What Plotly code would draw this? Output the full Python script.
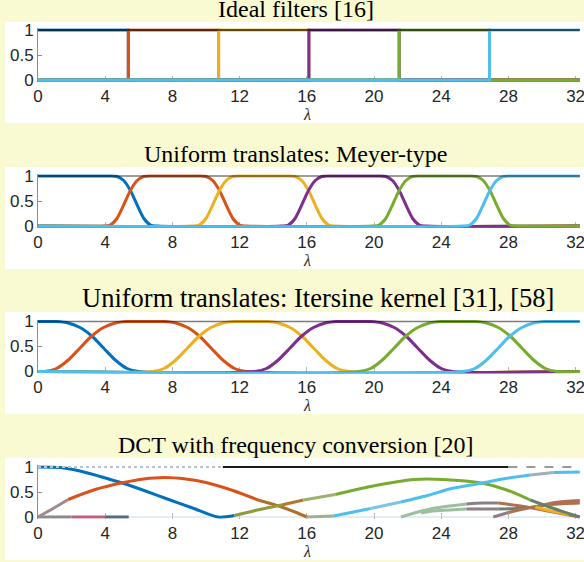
import plotly.graph_objects as go

FIG_W, FIG_H = 584, 562
PAPER_BG = "#FAFAD2"

# ---------------- data ----------------
LAMBDA_MAX = 32.25
X_TICKS = [0, 4, 8, 12, 16, 20, 24, 28, 32]
Y_TICKS = [0, 0.5, 1]
Y_TICKTEXT = ["0", "0.5", "1"]
TITLES = [
    "Ideal filters [16]",
    "Uniform translates: Meyer-type",
    "Uniform translates: Itersine kernel [31], [58]",
    "DCT with frequency conversion [20]",
]
FILTER_COLORS = ["#0072BD", "#D95319", "#EDB120", "#7E2F8E", "#77AC30", "#4DBEEE"]

# Panel 1: ideal band edges
IDEAL_EDGES = [0, 5.375, 10.75, 16.125, 21.5, 26.875, 32.25]

# Panel 2: Meyer-type transitions (crossing points and ramp profile)
MEYER_CENTERS = [5.5, 10.8, 16.1, 21.5, 26.9]
MEYER_OFFSETS = [-1.6, -1.2, -0.8, -0.4, 0.0, 0.4, 0.8, 1.2, 1.6]
MEYER_RISE = [0.0, 0.02, 0.15, 0.42, 0.71, 0.91, 0.99, 1.0, 1.0]

# Panel 3: Itersine transitions
ITERS_CENTERS = [3.2, 9.6, 15.7, 21.9, 28.1]
ITERS_OFFSETS = [-2.8, -2.1, -1.4, -0.7, 0.0, 0.7, 1.4, 2.1, 2.8]
ITERS_RISE = [0.0, 0.06, 0.23, 0.47, 0.71, 0.88, 0.97, 1.0, 1.0]

# Panel 4: DCT curves
DCT_BLUE_X = [0, 1.3, 2.5, 3.7, 5.1, 6.4, 7.7, 9.2, 10.7, 11.7]
DCT_BLUE_Y = [1.0, 0.99, 0.92, 0.81, 0.67, 0.52, 0.36, 0.18, 0.0, 0.03]
DCT_BLUE_SEG = [(0, 9, "#0072BD")]

DCT_ORANGE_X = [0, 0.9, 1.8, 3.4, 5.1, 6.3, 7.5, 8.8, 10.0, 11.6, 13.1, 14.5, 15.3, 16.0, 17.6]
DCT_ORANGE_Y = [0.0, 0.17, 0.35, 0.55, 0.69, 0.76, 0.79, 0.76, 0.69, 0.53, 0.34, 0.2, 0.1, 0.0, 0.02]
DCT_ORANGE_SEG = [(0, 2, "#9e8a90"), (2, 10, "#D95319"), (10, 13, "#b0702a"), (13, 14, "#9fb08a")]

DCT_GREEN_X = [11.7, 13.2, 14.5, 15.8, 17.7, 19.8, 22.4, 24.1, 26.4, 27.9, 29.3, 30.7, 32.25]
DCT_GREEN_Y = [0.03, 0.15, 0.24, 0.34, 0.45, 0.61, 0.75, 0.75, 0.68, 0.54, 0.34, 0.17, 0.0]
DCT_GREEN_SEG = [(0, 2, "#8f9a3a"), (2, 3, "#b5762a"), (3, 4, "#9cb070"), (4, 10, "#77AC30"), (10, 12, "#6a7f6a")]

DCT_CYAN_X = [17.6, 19.8, 21.6, 23.3, 24.5, 26.3, 27.8, 29.3, 30.7, 32.25]
DCT_CYAN_Y = [0.02, 0.17, 0.3, 0.44, 0.56, 0.67, 0.77, 0.84, 0.89, 0.9]
DCT_CYAN_SEG = [(0, 1, "#4DBEEE"), (1, 2, "#7cc4e0"), (2, 7, "#4DBEEE"), (7, 8, "#9fb0b8"), (8, 9, "#4DBEEE")]

DCT_C5_X = [21.6, 22.5, 23.5, 24.5, 25.5, 26.5, 27.4, 28.9, 30.5, 32.25]
DCT_C5_Y = [0.0, 0.09, 0.17, 0.22, 0.26, 0.28, 0.28, 0.21, 0.11, 0.0]
DCT_C5_SEG = [(0, 4, "#9dbf9f"), (4, 6, "#8e7f86"), (6, 9, "#b07050")]

DCT_C6_X = [22.8, 23.5, 24.5, 25.5, 26.5, 27.4, 28.5, 29.5, 30.5, 31.3, 32.25]
DCT_C6_Y = [0.08, 0.12, 0.14, 0.16, 0.16, 0.16, 0.17, 0.2, 0.25, 0.27, 0.28]
DCT_C6_SEG = [(0, 3, "#9dbf9f"), (3, 5, "#8e7f86"), (5, 8, "#6f7f70"), (8, 10, "#b07050")]

DCT_C7_X = [27.1, 28.0, 28.9, 29.8, 30.8, 32.25]
DCT_C7_Y = [0.0, 0.09, 0.16, 0.22, 0.29, 0.33]
DCT_C7_SEG = [(0, 1, "#8e7f86"), (1, 5, "#b07050")]

DCT_C8_X = [29.6, 30.3, 31.0, 31.6]
DCT_C8_Y = [0.2, 0.14, 0.09, 0.05]
DCT_C8_SEG = [(0, 3, "#EDB120")]

DCT_ZERO_X = [0, 2.0, 4.0, 5.4]
DCT_ZERO_COLORS = ["#8a8a8a", "#c0607a", "#4e6a88"]

DCT_TOP_X = [0, 11, 28, 32.25]
DCT_TOP_STYLE = [("#b9c3cc", "dot"), ("#1a1a1a", "solid"), ("#9a9a9a", "dash")]

# ---------------- layout geometry (pixels) ----------------
Y_ONE_PX = [30, 176, 321.5, 467]       # pixel row of value 1 in each panel
UNIT_PX = 50                             # pixels per unit of value
PAD = 0.035
WHITE_TOP = [22, 167, 312, 458]
WHITE_BOT = [123, 269, 414, 560]
TITLE_Y = [9, 154, 298, 445]
TITLE_X = [296, 295, 318, 295]
TITLE_SIZE = [24, 24, 26.5, 24]
X_LEFT_PX = 38
X_RANGE = [0, 32.5]

SERIF = "Liberation Serif"
SANS = "Liberation Sans"

fig = go.Figure()


def axn(k, kind):
    return kind if k == 1 else f"{kind}{k}"


def add_line(k, xs, ys, color, width=3.0, shape="spline", dash="solid", opacity=1.0):
    line = dict(color=color, width=width, shape=shape, dash=dash)
    if shape == "spline":
        line["smoothing"] = 0.8
    fig.add_trace(go.Scatter(
        x=xs, y=ys, mode="lines", line=line, opacity=opacity,
        xaxis=axn(k, "x"), yaxis=axn(k, "y"), hoverinfo="skip", showlegend=False))


def add_segments(k, xs, ys, segs, width=3.0):
    for a, b, col in segs:
        add_line(k, xs[a:b + 1], ys[a:b + 1], col, width=width)


def bank(centers, offsets, rise):
    fall = rise[::-1]
    n = len(centers) + 1
    curves = []
    for k in range(n):
        xs, ys = [0.0], [1.0 if k == 0 else 0.0]
        if k > 0:
            c = centers[k - 1]
            xs += [c + d for d in offsets]
            ys += list(rise)
        if k < n - 1:
            c = centers[k]
            xs += [c + d for d in offsets]
            ys += list(fall)
        xs.append(LAMBDA_MAX)
        ys.append(1.0 if k == n - 1 else 0.0)
        curves.append((xs, ys))
    return curves


# Panel 1: ideal filters
for k in range(6):
    lo, hi = IDEAL_EDGES[k], IDEAL_EDGES[k + 1]
    if lo > 0:
        xs, ys = [0, lo, lo, hi], [0, 0, 1, 1]
    else:
        xs, ys = [lo, hi], [1, 1]
    if hi < LAMBDA_MAX:
        xs += [hi, LAMBDA_MAX]
        ys += [0, 0]
    add_line(1, xs, ys, FILTER_COLORS[k], shape="linear")
add_line(1, [0, LAMBDA_MAX], [1, 1], "#111111", width=2.0, shape="linear", opacity=0.65)

# Panel 2: Meyer-type
for k, (xs, ys) in enumerate(bank(MEYER_CENTERS, MEYER_OFFSETS, MEYER_RISE)):
    add_line(2, xs, ys, FILTER_COLORS[k])
add_line(2, [0, LAMBDA_MAX], [1, 1], "#111111", width=1.6, shape="linear", opacity=0.55)

# Panel 3: Itersine
for k, (xs, ys) in enumerate(bank(ITERS_CENTERS, ITERS_OFFSETS, ITERS_RISE)):
    add_line(3, xs, ys, FILTER_COLORS[k])
add_line(3, [0, LAMBDA_MAX], [1, 1], "#111111", width=1.6, shape="linear", opacity=0.55)

# Panel 4: DCT
add_line(4, [0, LAMBDA_MAX], [0, 0], "#c8dce8", width=1.2, shape="linear")
for i, col in enumerate(DCT_ZERO_COLORS):
    add_line(4, DCT_ZERO_X[i:i + 2], [0, 0], col, shape="linear")
add_segments(4, DCT_C5_X, DCT_C5_Y, DCT_C5_SEG)
add_segments(4, DCT_C6_X, DCT_C6_Y, DCT_C6_SEG)
add_segments(4, DCT_C7_X, DCT_C7_Y, DCT_C7_SEG)
add_segments(4, DCT_C8_X, DCT_C8_Y, DCT_C8_SEG)
add_segments(4, DCT_BLUE_X, DCT_BLUE_Y, DCT_BLUE_SEG)
add_segments(4, DCT_ORANGE_X, DCT_ORANGE_Y, DCT_ORANGE_SEG)
add_segments(4, DCT_GREEN_X, DCT_GREEN_Y, DCT_GREEN_SEG)
add_segments(4, DCT_CYAN_X, DCT_CYAN_Y, DCT_CYAN_SEG)
for i, (col, dash) in enumerate(DCT_TOP_STYLE):
    add_line(4, DCT_TOP_X[i:i + 2], [1, 1], col, width=2, shape="linear", dash=dash)

# ---------------- axes, panels, text ----------------
shapes, annotations = [], []
layout_axes = {}
for i in range(4):
    k = i + 1
    top_px = Y_ONE_PX[i] - PAD * UNIT_PX
    bot_px = Y_ONE_PX[i] + UNIT_PX + PAD * UNIT_PX
    ydom = [1 - bot_px / FIG_H, 1 - top_px / FIG_H]
    layout_axes["xaxis" if k == 1 else f"xaxis{k}"] = dict(
        domain=[X_LEFT_PX / FIG_W, 1], range=X_RANGE, anchor=axn(k, "y"),
        tickvals=X_TICKS, ticktext=[str(t) for t in X_TICKS],
        ticks="inside", ticklen=6, tickcolor="#b4b4b4", tickwidth=1,
        tickfont=dict(family=SANS, size=17, color="#262626"),
        ticklabeloverflow="allow", ticklabelstandoff=2, automargin=False,
        showgrid=False, zeroline=False, showline=False, layer="below traces", fixedrange=True)
    layout_axes["yaxis" if k == 1 else f"yaxis{k}"] = dict(
        domain=ydom, range=[-PAD, 1 + PAD], anchor=axn(k, "x"),
        tickvals=Y_TICKS, ticktext=Y_TICKTEXT,
        ticks="inside", ticklen=4, tickcolor="#8c8c8c", tickwidth=1,
        tickfont=dict(family=SANS, size=17, color="#262626"),
        ticklabeloverflow="allow", ticklabelstandoff=0, automargin=False,
        showgrid=False, zeroline=False, showline=True, linecolor="#8c8c8c", linewidth=1,
        layer="below traces", fixedrange=True)
    shapes.append(dict(type="rect", xref="paper", yref="paper", layer="below",
                       x0=5 / FIG_W, x1=1.0, y0=1 - WHITE_BOT[i] / FIG_H, y1=1 - WHITE_TOP[i] / FIG_H,
                       fillcolor="white", line=dict(width=0)))
    annotations.append(dict(text=TITLES[i], xref="paper", yref="paper", x=TITLE_X[i] / FIG_W,
                            y=1 - TITLE_Y[i] / FIG_H, xanchor="center", yanchor="middle",
                            showarrow=False,
                            font=dict(family=SERIF, size=TITLE_SIZE[i], color="black")))
    annotations.append(dict(text="<i>λ</i>", xref=axn(k, "x"), yref="paper", x=16,
                            y=1 - (Y_ONE_PX[i] + UNIT_PX + 34) / FIG_H, xanchor="center", yanchor="middle",
                            showarrow=False,
                            font=dict(family=SERIF, size=16, color="#262626")))

fig.update_layout(
    template="none",
    width=FIG_W, height=FIG_H, margin=dict(l=0, r=0, t=0, b=0, pad=0),
    paper_bgcolor=PAPER_BG, plot_bgcolor="white",
    shapes=shapes, annotations=annotations, showlegend=False,
    **layout_axes)

fig.write_html("out.html", config={"displayModeBar": False, "staticPlot": True},
               post_script="document.body.style.margin='0px';document.body.style.overflow='hidden';")
